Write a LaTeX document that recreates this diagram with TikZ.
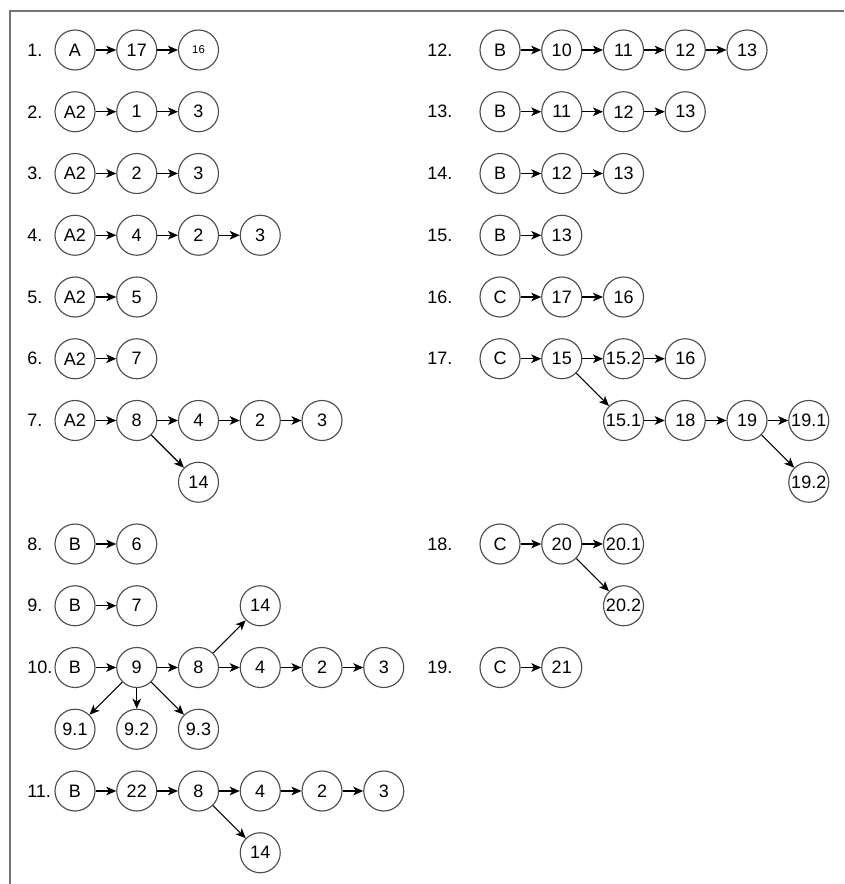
\documentclass[tikz,border=0pt]{standalone}
\usepackage{fontspec}
\setmainfont{Liberation Sans}
\usetikzlibrary{arrows.meta}
\begin{document}
\begin{tikzpicture}[x=0.75pt,y=-0.75pt,
  st/.style={circle,draw=black!70,line width=0.85pt,minimum size=30pt,inner sep=0pt,font=\fontsize{13.5}{13.5}\selectfont},
  small/.style={font=\fontsize{8.5}{8.5}\selectfont},
  lab/.style={anchor=west,inner sep=0pt,font=\fontsize{13.5}{13.5}\selectfont},
  ar/.style={-{Stealth[length=7.5pt,width=6.5pt,inset=2pt]},line width=0.8pt},
  frame/.style={draw=black!55,line width=1.4pt}]
\useasboundingbox (0,0) rectangle (844,884);
\coordinate (fa) at (844,11); \coordinate (fb) at (10,11); \coordinate (fc) at (10,884);
\draw[frame] (fa) -- (fb) -- (fc);

% ---------- left column ----------
% row 1
\node[lab] (l1) at (27,50) {1.};
\node[st] (a1) at (75,50) {A};
\node[st] (b1) at (136.75,50) {17};
\node[st,small] (c1) at (198.5,50) {16};
\draw[ar] (a1) -- (b1); \draw[ar] (b1) -- (c1);
% row 2
\node[lab] (l2) at (27,111.75) {2.};
\node[st] (a2) at (75,111.75) {A2};
\node[st] (b2) at (136.75,111.75) {1};
\node[st] (c2) at (198.5,111.75) {3};
\draw[ar] (a2) -- (b2); \draw[ar] (b2) -- (c2);
% row 3
\node[lab] (l3) at (27,173.5) {3.};
\node[st] (a3) at (75,173.5) {A2};
\node[st] (b3) at (136.75,173.5) {2};
\node[st] (c3) at (198.5,173.5) {3};
\draw[ar] (a3) -- (b3); \draw[ar] (b3) -- (c3);
% row 4
\node[lab] (l4) at (27,235.25) {4.};
\node[st] (a4) at (75,235.25) {A2};
\node[st] (b4) at (136.75,235.25) {4};
\node[st] (c4) at (198.5,235.25) {2};
\node[st] (d4) at (260.25,235.25) {3};
\draw[ar] (a4) -- (b4); \draw[ar] (b4) -- (c4); \draw[ar] (c4) -- (d4);
% row 5
\node[lab] (l5) at (27,297) {5.};
\node[st] (a5) at (75,297) {A2};
\node[st] (b5) at (136.75,297) {5};
\draw[ar] (a5) -- (b5);
% row 6
\node[lab] (l6) at (27,358.75) {6.};
\node[st] (a6) at (75,358.75) {A2};
\node[st] (b6) at (136.75,358.75) {7};
\draw[ar] (a6) -- (b6);
% row 7
\node[lab] (l7) at (27,420.5) {7.};
\node[st] (a7) at (75,420.5) {A2};
\node[st] (b7) at (136.75,420.5) {8};
\node[st] (c7) at (198.5,420.5) {4};
\node[st] (d7) at (260.25,420.5) {2};
\node[st] (e7) at (322,420.5) {3};
\node[st] (f7) at (198.5,482.25) {14};
\draw[ar] (a7) -- (b7); \draw[ar] (b7) -- (c7); \draw[ar] (c7) -- (d7); \draw[ar] (d7) -- (e7);
\draw[ar] (b7) -- (f7);
% row 8
\node[lab] (l8) at (27,544) {8.};
\node[st] (a8) at (75,544) {B};
\node[st] (b8) at (136.75,544) {6};
\draw[ar] (a8) -- (b8);
% row 9
\node[lab] (l9) at (27,605.75) {9.};
\node[st] (a9) at (75,605.75) {B};
\node[st] (b9) at (136.75,605.75) {7};
\draw[ar] (a9) -- (b9);
% row 10
\node[lab] (l10) at (27,667.5) {10.};
\node[st] (a10) at (75,667.5) {B};
\node[st] (b10) at (136.75,667.5) {9};
\node[st] (c10) at (198.5,667.5) {8};
\node[st] (d10) at (260.25,667.5) {4};
\node[st] (e10) at (322,667.5) {2};
\node[st] (f10) at (383.75,667.5) {3};
\node[st] (g10) at (260.25,605.75) {14};
\node[st] (h10) at (75,729.25) {9.1};
\node[st] (i10) at (136.75,729.25) {9.2};
\node[st] (j10) at (198.5,729.25) {9.3};
\draw[ar] (a10) -- (b10); \draw[ar] (b10) -- (c10); \draw[ar] (c10) -- (d10);
\draw[ar] (d10) -- (e10); \draw[ar] (e10) -- (f10);
\draw[ar] (c10) -- (g10);
\draw[ar] (b10) -- (h10); \draw[ar] (b10) -- (i10); \draw[ar] (b10) -- (j10);
% row 11
\node[lab] (l11) at (27,791) {11.};
\node[st] (a11) at (75,791) {B};
\node[st] (b11) at (136.75,791) {22};
\node[st] (c11) at (198.5,791) {8};
\node[st] (d11) at (260.25,791) {4};
\node[st] (e11) at (322,791) {2};
\node[st] (f11) at (383.75,791) {3};
\node[st] (g11) at (260.25,852.75) {14};
\draw[ar] (a11) -- (b11); \draw[ar] (b11) -- (c11); \draw[ar] (c11) -- (d11);
\draw[ar] (d11) -- (e11); \draw[ar] (e11) -- (f11);
\draw[ar] (c11) -- (g11);

% ---------- right column ----------
% row 12
\node[lab] (l12) at (427,50) {12.};
\node[st] (a12) at (500,50) {B};
\node[st] (b12) at (561.75,50) {10};
\node[st] (c12) at (623.5,50) {11};
\node[st] (d12) at (685.25,50) {12};
\node[st] (e12) at (747,50) {13};
\draw[ar] (a12) -- (b12); \draw[ar] (b12) -- (c12); \draw[ar] (c12) -- (d12); \draw[ar] (d12) -- (e12);
% row 13
\node[lab] (l13) at (427,111.75) {13.};
\node[st] (a13) at (500,111.75) {B};
\node[st] (b13) at (561.75,111.75) {11};
\node[st] (c13) at (623.5,111.75) {12};
\node[st] (d13) at (685.25,111.75) {13};
\draw[ar] (a13) -- (b13); \draw[ar] (b13) -- (c13); \draw[ar] (c13) -- (d13);
% row 14
\node[lab] (l14) at (427,173.5) {14.};
\node[st] (a14) at (500,173.5) {B};
\node[st] (b14) at (561.75,173.5) {12};
\node[st] (c14) at (623.5,173.5) {13};
\draw[ar] (a14) -- (b14); \draw[ar] (b14) -- (c14);
% row 15
\node[lab] (l15) at (427,235.25) {15.};
\node[st] (a15) at (500,235.25) {B};
\node[st] (b15) at (561.75,235.25) {13};
\draw[ar] (a15) -- (b15);
% row 16
\node[lab] (l16) at (427,297) {16.};
\node[st] (a16) at (500,297) {C};
\node[st] (b16) at (561.75,297) {17};
\node[st] (c16) at (623.5,297) {16};
\draw[ar] (a16) -- (b16); \draw[ar] (b16) -- (c16);
% row 17
\node[lab] (l17) at (427,358.75) {17.};
\node[st] (a17) at (500,358.75) {C};
\node[st] (b17) at (561.75,358.75) {15};
\node[st] (c17) at (623.5,358.75) {15.2};
\node[st] (d17) at (685.25,358.75) {16};
\node[st] (e17) at (623.5,420.5) {15.1};
\node[st] (f17) at (685.25,420.5) {18};
\node[st] (g17) at (747,420.5) {19};
\node[st] (h17) at (808.75,420.5) {19.1};
\node[st] (i17) at (808.75,482.25) {19.2};
\draw[ar] (a17) -- (b17); \draw[ar] (b17) -- (c17); \draw[ar] (c17) -- (d17);
\draw[ar] (b17) -- (e17);
\draw[ar] (e17) -- (f17); \draw[ar] (f17) -- (g17); \draw[ar] (g17) -- (h17);
\draw[ar] (g17) -- (i17);
% row 18
\node[lab] (l18) at (427,544) {18.};
\node[st] (a18) at (500,544) {C};
\node[st] (b18) at (561.75,544) {20};
\node[st] (c18) at (623.5,544) {20.1};
\node[st] (d18) at (623.5,605.75) {20.2};
\draw[ar] (a18) -- (b18); \draw[ar] (b18) -- (c18); \draw[ar] (b18) -- (d18);
% row 19
\node[lab] (l19) at (427,667.5) {19.};
\node[st] (a19) at (500,667.5) {C};
\node[st] (b19) at (561.75,667.5) {21};
\draw[ar] (a19) -- (b19);
\end{tikzpicture}
\end{document}
